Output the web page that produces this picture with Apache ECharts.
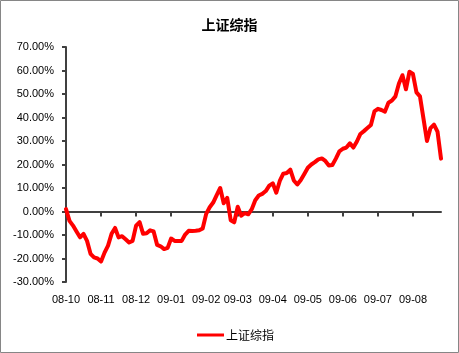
<!DOCTYPE html>
<html>
<head>
<meta charset="utf-8">
<script src="https://cdn.jsdelivr.net/npm/echarts@6/dist/echarts.min.js"></script>
<style>
html,body{margin:0;padding:0;background:#fff;}
#c{width:459px;height:353px;}
</style>
</head>
<body>
<div id="c"></div>
<script>
const titleText = '上证综指';
const seriesName = '上证综指';
const monthLabels = ['08-10','08-11','08-12','09-01','09-02','09-03','09-04','09-05','09-06','09-07','09-08'];
const monthStartIdx = [0,10,20,30,40,49,59,69,79,89,99];
const yTicks = [-30,-20,-10,0,10,20,30,40,50,60,70];
// cumulative return, percent
const values = [
  1,-4,-6,-8.5,-11,-9.5,-12.5,-18,-19.5,-20,
  -21.3,-17.5,-14.5,-9.5,-7,-11,-10.5,-11.8,-13.2,-12.5,
  -6,-4.5,-9.5,-9.3,-8,-8.5,-14.2,-14.8,-16,-15.5,
  -11.5,-12.5,-12.5,-12.5,-9.8,-8.2,-8.3,-8.2,-8,-7.2,
  -1,1.8,3.8,7,10,3.5,5.8,-3.7,-4.6,2,
  -1.8,-0.7,-1.2,1,4.8,6.8,7.5,8.7,11,12,
  8,13,16.1,16.4,17.8,13.2,11.5,13.4,16,18.6,
  20,21,22.2,22.6,21.5,19.6,19.8,22.5,25.6,26.7,
  27.2,29,27.2,29.8,33,34.2,35.5,36.8,42.6,43.7,
  43.2,42.5,46.3,47.2,49,54.5,58,52,59.5,58.5,
  50.7,49,39.5,30,35.5,37,34,22.5
];

const categories = values.map((v, i) => {
  const k = monthStartIdx.indexOf(i);
  return k >= 0 ? monthLabels[k] : '';
});

const chart = echarts.init(document.getElementById('c'), null, {renderer: 'canvas'});
const axisColor = '#404040';
chart.setOption({
  backgroundColor: '#fff',
  animation: false,
  graphic: [{
    type: 'rect', shape: {x: 0.5, y: 0.5, width: 458, height: 352},
    style: {fill: null, stroke: '#868686', lineWidth: 1}, z: 100
  }],
  title: {
    text: titleText, left: 'center', top: 13,
    textStyle: {fontFamily: 'Noto Sans CJK SC', fontSize: 14, fontWeight: 'bold', color: '#000'}
  },
  legend: {
    data: [seriesName], left: 192, top: 324,
    icon: 'rect', itemWidth: 27, itemHeight: 3, itemGap: 0,
    textStyle: {fontFamily: 'Noto Sans CJK SC', fontSize: 12, color: '#000', padding: [0,0,0,-3]}
  },
  grid: {left: 66, top: 47, width: 375, height: 235, containLabel: false},
  xAxis: {
    type: 'category', data: categories, boundaryGap: false,
    axisLine: {lineStyle: {color: axisColor, width: 2}},
    axisTick: {show: true, length: 5, lineStyle: {color: axisColor, width: 2},
      interval: (idx, val) => val !== ''},
    axisLabel: {interval: (idx, val) => val !== '', margin: 12,
      fontFamily: 'Liberation Sans', fontSize: 11, color: '#000'},
    splitLine: {show: false}
  },
  yAxis: {
    type: 'value', min: yTicks[0], max: yTicks[yTicks.length-1], interval: 10,
    axisLine: {show: true, lineStyle: {color: axisColor, width: 2}},
    axisTick: {show: true, length: 4, lineStyle: {color: axisColor, width: 2}},
    axisLabel: {margin: 12, fontFamily: 'Liberation Sans', fontSize: 11, color: '#000',
      formatter: v => v.toFixed(2) + '%'},
    splitLine: {show: false}
  },
  series: [{
    name: seriesName, type: 'line', data: values,
    showSymbol: false, symbol: 'none',
    lineStyle: {color: '#ff0000', width: 4, join: 'round', cap: 'round'},
    itemStyle: {color: '#ff0000'}
  }]
});
</script>
</body>
</html>
